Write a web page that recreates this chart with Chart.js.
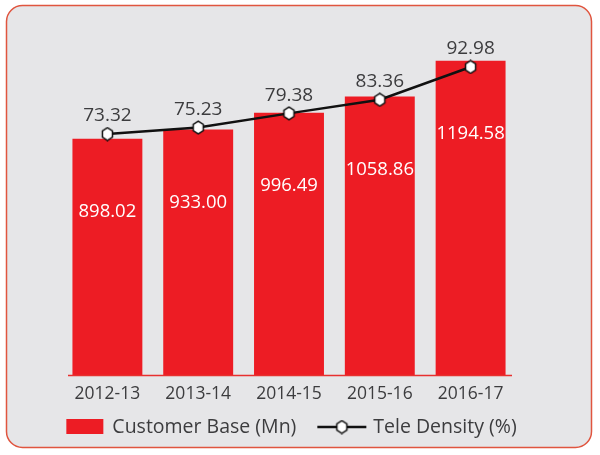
<!DOCTYPE html>
<html>
<head>
<meta charset="utf-8">
<script src="https://cdn.jsdelivr.net/npm/chart.js@4"></script>
<style>
  html, body { margin: 0; padding: 0; background: #fff; }
</style>
</head>
<body>
<canvas id="myChart" width="600" height="455"></canvas>
<script>
const years = ['2012-13', '2013-14', '2014-15', '2015-16', '2016-17'];
const customerBase = [898.02, 933.00, 996.49, 1058.86, 1194.58];
const teleDensity = [73.32, 75.23, 79.38, 83.36, 92.98];
const seriesNames = ['Customer Base (Mn)', 'Tele Density (%)'];

const RED = '#ed1c24';
const TEXT = '#3c3c3e';
const FONT = '"Open Sans", "Liberation Sans", sans-serif';

function makeHexagon(size) {
  const c = document.createElement('canvas');
  c.width = size;
  c.height = size;
  const g = c.getContext('2d');
  const r = size / 2 - 1.2;
  g.beginPath();
  for (let i = 0; i < 6; i++) {
    const a = Math.PI / 2 + i * Math.PI / 3;
    const x = size / 2 + r * 0.92 * Math.cos(a);
    const y = size / 2 + r * Math.sin(a);
    if (i === 0) g.moveTo(x, y); else g.lineTo(x, y);
  }
  g.closePath();
  g.fillStyle = '#fff';
  g.fill();
  g.lineWidth = 1.5;
  g.strokeStyle = '#111';
  g.stroke();
  return c;
}
const hexagon = makeHexagon(15);

// rounded grey panel behind everything
const framePlugin = {
  id: 'frame',
  beforeDraw(chart) {
    const ctx = chart.ctx;
    ctx.save();
    ctx.fillStyle = '#fff';
    ctx.fillRect(0, 0, chart.width, chart.height);
    ctx.beginPath();
    ctx.roundRect(6.5, 5.5, 585, 442, 16);
    ctx.fillStyle = '#e6e6e8';
    ctx.fill();
    ctx.lineWidth = 1.5;
    ctx.strokeStyle = '#e0553f';
    ctx.stroke();
    ctx.restore();
  }
};

// value labels + red baseline
const labelPlugin = {
  id: 'valueLabels',
  afterDatasetsDraw(chart) {
    const ctx = chart.ctx;
    const area = chart.chartArea;
    const xScale = chart.scales.x;
    ctx.save();
    ctx.beginPath();
    ctx.moveTo(area.left + 6, area.bottom + 0.5);
    ctx.lineTo(area.right - 4, area.bottom + 0.5);
    ctx.strokeStyle = '#e8302f';
    ctx.lineWidth = 1.5;
    ctx.stroke();

    ctx.textAlign = 'center';
    ctx.textBaseline = 'middle';

    ctx.font = '18.5px ' + FONT;
    chart.getDatasetMeta(0).data.forEach((bar, i) => {
      ctx.fillStyle = '#fff';
      ctx.fillText(customerBase[i].toFixed(2), bar.x, bar.y + 73);
    });
    ctx.font = '19px ' + FONT;
    chart.getDatasetMeta(1).data.forEach((pt, i) => {
      ctx.fillStyle = TEXT;
      ctx.fillText(teleDensity[i].toFixed(2), xScale.getPixelForValue(i), pt.y - 18);
    });
    ctx.restore();
  }
};

// legend: red box, line with hexagon
const legendPlugin = {
  id: 'customLegend',
  afterDraw(chart) {
    const ctx = chart.ctx;
    const area = chart.chartArea;
    const y = 427;
    ctx.save();
    ctx.font = '19.5px ' + FONT;
    ctx.textBaseline = 'middle';
    ctx.textAlign = 'left';
    const w1 = ctx.measureText(seriesNames[0]).width;
    const w2 = ctx.measureText(seriesNames[1]).width;
    const total = 37 + 9 + w1 + 21 + 49 + 7 + w2;
    let x = (area.left + area.right) / 2 + 2.5 - total / 2;

    ctx.fillStyle = RED;
    ctx.fillRect(x, y - 8, 37, 15);
    x += 37 + 9;
    ctx.fillStyle = TEXT;
    ctx.fillText(seriesNames[0], x, y);
    x += w1 + 21;

    ctx.beginPath();
    ctx.moveTo(x, y);
    ctx.lineTo(x + 49, y);
    ctx.strokeStyle = '#111';
    ctx.lineWidth = 2.5;
    ctx.stroke();
    ctx.drawImage(hexagon, x + 24.5 - hexagon.width / 2, y - hexagon.height / 2);
    x += 49 + 7;
    ctx.fillStyle = TEXT;
    ctx.fillText(seriesNames[1], x, y);
    ctx.restore();
  }
};

new Chart(document.getElementById('myChart'), {
  data: {
    labels: years,
    datasets: [
      {
        type: 'bar',
        label: seriesNames[0],
        data: customerBase,
        backgroundColor: RED,
        borderWidth: 0,
        categoryPercentage: 1,
        barPercentage: 0.77,
        yAxisID: 'y',
        order: 1
      },
      {
        type: 'line',
        label: seriesNames[1],
        data: teleDensity,
        borderColor: '#111',
        borderWidth: 2.5,
        pointStyle: hexagon,
        pointRadius: 7,
        tension: 0,
        yAxisID: 'y1',
        order: 0
      }
    ]
  },
  options: {
    responsive: false,
    animation: false,
    layout: { padding: { left: 62, right: 84, top: 33, bottom: 42 } },
    plugins: {
      legend: { display: false },
      tooltip: { enabled: false }
    },
    scales: {
      x: {
        grid: { display: false, drawTicks: false },
        border: { display: false },
        ticks: { color: TEXT, font: { size: 17.5, family: FONT }, padding: 8.5 }
      },
      y: { display: false, min: 0, max: 1300 },
      y1: { display: false, min: 2.65, max: 102.95 }
    }
  },
  plugins: [framePlugin, labelPlugin, legendPlugin]
});
</script>
</body>
</html>
